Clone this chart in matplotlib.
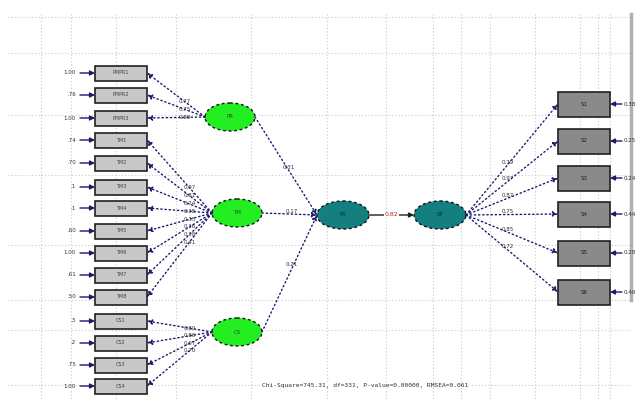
import numpy as np
import matplotlib.pyplot as plt
from matplotlib.patches import Ellipse, Rectangle

# observed indicators (left side)
left_names = ['PMPR1', 'PMPR2', 'PMPR3', 'TM1', 'TM2', 'TM3', 'TM4', 'TM5',
              'TM6', 'TM7', 'TM8', 'CS1', 'CS2', 'CS3', 'CS4']
left_err = ['1.00', '.76', '1.00', '.74', '.70', '.1', '.1', '.60',
            '1.00', '.61', '.50', '.3', '.2', '.75', '1.00']
left_y = [73, 95, 118, 140, 163, 187, 208, 231, 253, 275, 297, 321, 343, 365, 386]

# exogenous latent variables
exo_names = ['PR', 'TM', 'CS']
exo_y = [117, 213, 332]
exo_x = [230, 237, 237]
# which indicators belong to each latent
groups = [[0, 1, 2], [3, 4, 5, 6, 7, 8, 9, 10], [11, 12, 13, 14]]
loadings = [['0.77', '0.75', '0.88'],
            ['0.97', '0.81', '0.74', '0.38', '0.35', '0.36', '0.38', '0.41'],
            ['0.80', '0.86', '0.67', '0.70']]

# structural part
endo_names = ['PA', 'SP']
endo_x = [343, 440]
endo_y = 215
gamma = ['0.31', '0.17', '0.21']
beta = '0.82'

# observed indicators (right side)
right_names = ['S1', 'S2', 'S3', 'S4', 'S5', 'S6']
right_y = [104, 141, 178, 214, 253, 292]
right_load = ['0.79', '0.97', '0.87', '0.75', '0.85', '0.72']
right_err = ['0.38', '0.25', '0.24', '0.44', '0.28', '0.49']

fit_text = 'Chi-Square=745.31, df=331, P-value=0.00000, RMSEA=0.061'

navy = '#1a1a6e'
dot = (0, (1, 2))

fig = plt.figure(figsize=(6.36, 4.13), dpi=100)
ax = fig.add_axes([0, 0, 1, 1])
ax.set_xlim(0, 636)
ax.set_ylim(413, 0)
ax.axis('off')

# background grid
for gx in [41, 71, 116, 176, 251, 327, 386, 433, 461, 490, 535, 580, 598, 610]:
    ax.plot([gx, gx], [14, 400], color='#c8c8c8', lw=0.8, ls=dot, zorder=0)
for gy in [17, 53, 115, 175, 245, 300, 330, 385]:
    ax.plot([8, 630], [gy, gy], color='#c8c8c8', lw=0.8, ls=dot, zorder=0)
ax.plot([631, 631], [14, 300], color='#b0b0b0', lw=2.5, zorder=0)


def arrow(x0, y0, x1, y1, ls=dot, color=navy, lw=1.0):
    ax.annotate('', xy=(x1, y1), xytext=(x0, y0),
                arrowprops=dict(arrowstyle='-|>', color=color, lw=lw,
                                linestyle=ls, mutation_scale=7,
                                shrinkA=0, shrinkB=0), zorder=3)


# left boxes
bw, bh = 52, 15
bx = 95
for name, err, y in zip(left_names, left_err, left_y):
    ax.add_patch(Rectangle((bx, y - bh / 2), bw, bh, facecolor='#c8c8c8',
                           edgecolor='#202020', lw=1.2, zorder=2))
    ax.text(bx + bw / 2, y, name, fontsize=3.5, ha='center', va='center',
            color='#404040', zorder=4)
    arrow(80, y, bx, y, ls='-')
    ax.text(76, y, err, fontsize=4, ha='right', va='center', color='#303030')

# exogenous ellipses
for nm, ex, ey in zip(exo_names, exo_x, exo_y):
    ax.add_patch(Ellipse((ex, ey), 50, 28, facecolor='#22ee22',
                         edgecolor='#101010', lw=1.0, ls=(0, (2, 2)), zorder=2))
    ax.text(ex, ey, nm, fontsize=4, ha='center', va='center', color='#205020',
            zorder=4)

# loadings
for g, (grp, labs) in enumerate(zip(groups, loadings)):
    ex, ey = exo_x[g], exo_y[g]
    for k, (i, lab) in enumerate(zip(grp, labs)):
        y = left_y[i]
        arrow(ex - 25, ey, bx + bw, y)
        t = 0.35
        lx = ex - 25 + (bx + bw - (ex - 25)) * t
        ly = ey + (y - ey) * t
        ax.text(lx, ly, lab, fontsize=4, ha='center', va='center',
                color='#303030', zorder=4)

# endogenous ellipses
for nm, ex in zip(endo_names, endo_x):
    ax.add_patch(Ellipse((ex, endo_y), 52, 28, facecolor='#137f7f',
                         edgecolor='#101010', lw=1.0, ls=(0, (2, 2)), zorder=2))
    ax.text(ex, endo_y, nm, fontsize=4, ha='center', va='center',
            color='#0a3030', zorder=4)

# gamma paths
for g, lab in enumerate(gamma):
    x0, y0 = exo_x[g] + 25, exo_y[g]
    x1, y1 = endo_x[0] - 26, endo_y
    arrow(x0, y0, x1, y1)
    ax.text(x0 + (x1 - x0) * 0.55, y0 + (y1 - y0) * 0.55 - 3, lab,
            fontsize=4, ha='center', va='center', color='#303030', zorder=4)

# beta path
arrow(endo_x[0] + 26, endo_y, endo_x[1] - 26, endo_y, ls='-', color='#202020')
ax.text((endo_x[0] + endo_x[1]) / 2, endo_y, beta, fontsize=4.5, ha='center',
        va='center', color='#c02020', zorder=4,
        bbox=dict(facecolor='white', edgecolor='none', pad=0.5))

# right boxes
rx, rw, rh = 558, 52, 25
for nm, y, lab, err in zip(right_names, right_y, right_load, right_err):
    ax.add_patch(Rectangle((rx, y - rh / 2), rw, rh, facecolor='#8a8a8a',
                           edgecolor='#202020', lw=1.2, zorder=2))
    ax.text(rx + rw / 2, y, nm, fontsize=4, ha='center', va='center',
            color='#202020', zorder=4)
    x0, y0 = endo_x[1] + 26, endo_y
    arrow(x0, y0, rx, y)
    ax.text(x0 + (rx - x0) * 0.45, y0 + (y - y0) * 0.45 - 3, lab,
            fontsize=4, ha='center', va='center', color='#303030', zorder=4)
    arrow(622, y, rx + rw, y, ls='-')
    ax.text(624, y, err, fontsize=4, ha='left', va='center', color='#303030')

ax.text(365, 385, fit_text, fontsize=4.5, ha='center', va='center',
        color='#303030', family='DejaVu Sans Mono', zorder=4,
        bbox=dict(facecolor='white', edgecolor='none', pad=0.5))

fig.savefig('out.png', dpi=100)
